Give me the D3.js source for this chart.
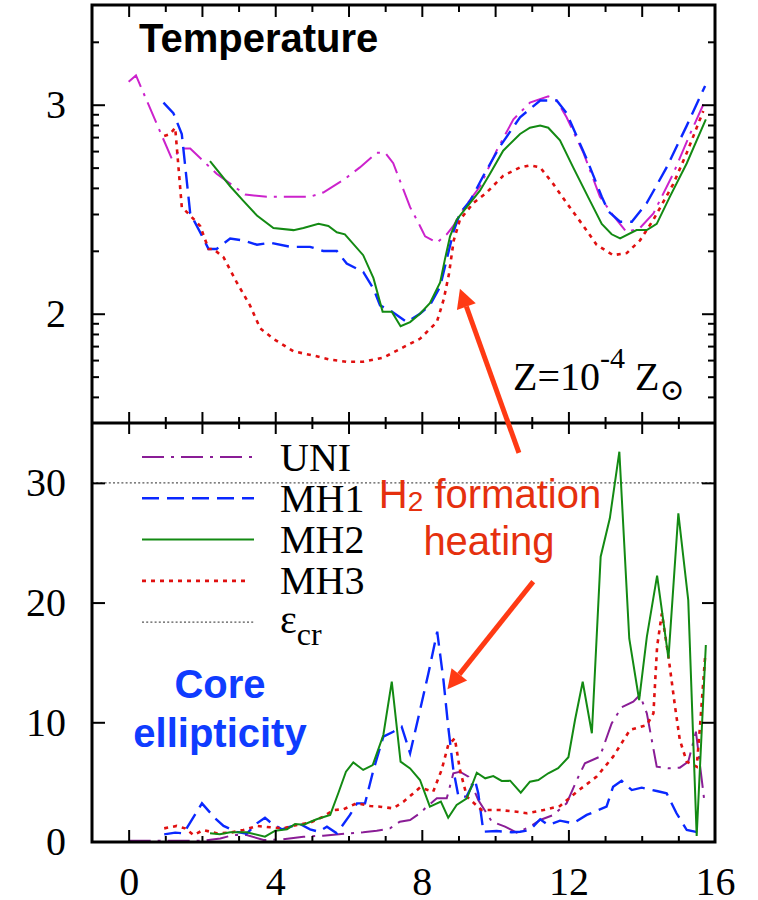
<!DOCTYPE html>
<html>
<head>
<meta charset="utf-8">
<script src="https://cdn.jsdelivr.net/npm/d3@7"></script>
<style>
  body { margin: 0; background: #fff; }
  svg { display: block; }
</style>
</head>
<body>
<svg id="chart" width="758" height="900"></svg>
<script>
// ---- data: [time, log10 T] for the temperature panel ----
const tempUNI = [[0,3.11],[0.2,3.14],[1.18,2.74],[1.45,2.79],[1.68,2.79],[2.4,2.67],[3.18,2.57],[3.77,2.56],[4.5,2.56],[4.95,2.56],[5.31,2.58],[5.86,2.64],[6.31,2.70],[6.77,2.77],[7.0,2.77],[7.22,2.72],[7.68,2.51],[7.95,2.42],[8.09,2.37],[8.41,2.34],[8.68,2.38],[8.86,2.42],[9.13,2.50],[9.59,2.61],[10.04,2.78],[10.5,2.93],[10.95,3.01],[11.45,3.04],[11.68,3.02],[11.95,2.94],[12.41,2.77],[12.86,2.56],[13.22,2.47],[13.59,2.39],[13.95,2.41],[14.32,2.48],[14.86,2.67],[15.32,2.86],[15.73,3.02]];
const tempMH1 = [[0.95,3.01],[1.22,2.96],[1.45,2.86],[1.68,2.48],[1.95,2.39],[2.18,2.31],[2.4,2.31],[2.77,2.36],[3.13,2.35],[3.5,2.33],[3.86,2.34],[4.41,2.32],[4.95,2.32],[5.31,2.30],[5.68,2.30],[5.95,2.24],[6.4,2.20],[6.68,2.12],[6.86,2.04],[7.18,2.01],[7.59,1.96],[7.95,2.00],[8.22,2.04],[8.5,2.13],[8.72,2.29],[8.86,2.39],[9.04,2.48],[9.32,2.54],[9.68,2.66],[10.13,2.80],[10.68,2.94],[11.23,3.02],[11.68,3.02],[11.95,2.96],[12.5,2.74],[12.91,2.56],[13.09,2.49],[13.41,2.44],[13.73,2.44],[14.14,2.53],[14.68,2.70],[15.23,2.90],[15.73,3.09]];
const tempMH2 = [[2.22,2.73],[2.77,2.61],[3.13,2.54],[3.5,2.47],[3.95,2.41],[4.5,2.40],[4.77,2.41],[5.18,2.43],[5.45,2.42],[5.68,2.39],[5.9,2.38],[6.4,2.28],[6.68,2.17],[6.93,2.01],[7.18,2.01],[7.42,1.94],[7.68,1.96],[7.95,2.00],[8.22,2.05],[8.5,2.15],[8.63,2.26],[8.77,2.37],[8.95,2.45],[9.32,2.53],[9.59,2.59],[9.86,2.67],[10.22,2.78],[10.68,2.86],[10.95,2.89],[11.23,2.90],[11.45,2.89],[11.77,2.83],[12.13,2.70],[12.59,2.54],[12.91,2.43],[13.18,2.38],[13.41,2.36],[13.86,2.40],[14.14,2.40],[14.41,2.43],[14.77,2.56],[15.23,2.72],[15.75,2.93]];
const tempMH3 = [[0.97,2.85],[1.13,2.86],[1.27,2.89],[1.36,2.70],[1.45,2.51],[1.68,2.47],[1.95,2.42],[2.18,2.31],[2.31,2.31],[2.59,2.27],[2.95,2.15],[3.31,2.04],[3.59,1.93],[3.95,1.88],[4.5,1.82],[5.04,1.80],[5.5,1.78],[5.95,1.77],[6.4,1.77],[6.95,1.79],[7.5,1.84],[7.95,1.88],[8.41,1.96],[8.6,2.07],[8.74,2.19],[8.87,2.35],[9.04,2.45],[9.41,2.53],[9.77,2.58],[10.22,2.66],[10.68,2.70],[10.95,2.71],[11.23,2.70],[11.59,2.62],[11.95,2.53],[12.41,2.42],[12.77,2.33],[13.22,2.28],[13.59,2.29],[13.95,2.35],[14.32,2.45],[14.86,2.62],[15.23,2.77],[15.68,2.97]];

// ---- data: [time, core ellipticity] ----
const ellUNI = [[0,0.1],[0.68,0.1],[1.68,0.1],[2.04,0.1],[2.5,0.3],[2.86,0.58],[3.22,0.58],[3.68,0.17],[4.22,0.22],[4.77,0.44],[5.31,0.53],[6.04,0.73],[6.4,0.81],[6.77,0.94],[7.13,1.14],[7.4,1.7],[7.68,1.84],[7.95,2.4],[8.09,2.81],[8.41,3.65],[8.68,3.65],[8.86,5.74],[9.04,5.87],[9.27,5.46],[9.54,3.51],[9.91,1.7],[10.27,1.28],[10.59,0.78],[10.95,1.28],[11.23,1.84],[11.59,2.26],[11.95,3.23],[12.23,5.18],[12.45,6.57],[12.86,7.13],[13.18,9.91],[13.45,11.25],[13.77,11.72],[13.95,12.28],[14.14,10.75],[14.41,6.29],[14.73,6.16],[15.04,6.21],[15.27,6.71],[15.48,9.21],[15.7,3.65]];
const ellMH1 = [[0.97,0.64],[1.27,0.78],[1.5,0.73],[2.0,3.23],[2.36,1.98],[2.59,1.34],[2.95,0.84],[3.22,0.69],[3.5,1.56],[3.72,2.03],[3.9,1.56],[4.18,1.06],[4.41,1.28],[4.68,1.5],[4.95,1.06],[5.18,0.86],[5.41,1.28],[5.68,0.73],[6.04,2.26],[6.23,3.23],[6.45,3.23],[6.68,6.02],[6.95,8.8],[7.22,9.21],[7.45,9.63],[7.68,7.41],[7.95,11.0],[8.18,14.09],[8.42,17.57],[8.59,13.53],[8.72,9.63],[8.86,6.02],[9.0,3.79],[9.22,3.79],[9.45,5.18],[9.54,4.07],[9.68,0.86],[10.04,0.92],[10.45,0.81],[10.68,0.86],[10.95,1.0],[11.23,1.9],[11.45,1.42],[11.77,1.78],[12.13,1.56],[12.5,2.26],[13.04,2.95],[13.22,4.62],[13.45,5.12],[13.73,4.34],[14.0,4.54],[14.41,4.26],[14.68,4.07],[14.95,2.4],[15.23,1.0],[15.68,0.73]];
const ellMH2 = [[2.22,0.73],[2.49,0.64],[2.77,0.81],[3.22,0.81],[3.72,0.44],[4.0,0.94],[4.32,1.06],[4.54,1.5],[4.77,1.45],[5.13,1.9],[5.5,2.26],[5.72,4.07],[5.93,5.87],[6.13,6.65],[6.4,6.02],[6.66,6.43],[6.95,8.94],[7.18,13.39],[7.42,6.71],[7.68,6.15],[7.95,5.18],[8.22,2.95],[8.52,3.37],[8.72,2.03],[8.95,3.09],[9.23,3.65],[9.5,5.79],[9.73,5.32],[9.95,5.51],[10.18,5.1],[10.41,5.12],[10.7,4.12],[10.95,5.04],[11.18,5.18],[11.45,5.74],[11.72,6.16],[12.0,7.08],[12.18,10.19],[12.39,13.39],[12.64,9.08],[12.88,23.83],[13.13,27.04],[13.39,32.6],[13.66,17.0],[13.93,11.86],[14.14,17.14],[14.42,22.25],[14.73,15.34],[15.0,27.46],[15.27,20.2],[15.5,0.5],[15.75,16.46]];
const ellMH3 = [[0.97,1.14],[1.31,1.34],[1.54,1.14],[1.77,0.58],[2.04,1.0],[2.4,0.73],[2.77,0.78],[3.13,1.0],[3.5,1.34],[3.86,1.23],[4.22,1.14],[4.59,1.42],[4.95,1.61],[5.31,2.12],[5.59,2.67],[5.86,2.73],[6.22,3.23],[6.59,3.01],[6.86,2.95],[7.22,2.81],[7.5,3.37],[7.77,4.07],[7.95,4.55],[8.31,4.2],[8.54,6.02],[8.72,8.1],[8.9,8.66],[9.04,6.02],[9.23,3.79],[9.63,2.67],[10.13,2.67],[10.59,2.53],[10.86,2.4],[11.32,2.67],[11.77,3.01],[12.23,4.2],[12.77,5.46],[13.22,7.13],[13.68,9.36],[14.14,9.77],[14.32,10.75],[14.42,16.32],[14.55,19.1],[14.73,15.48],[14.91,11.3],[15.04,8.52],[15.23,6.71],[15.5,6.29],[15.59,9.63],[15.73,15.48]];

const epsCritical = 30;

// axis ticks / labels
const xTickLabels = [0, 4, 8, 12, 16];
const logTempLabels = [2, 3];
const ellTickLabels = [0, 10, 20, 30];
const legendNames = ["UNI", "MH1", "MH2", "MH3"];

// ---- layout ----
const svg = d3.select("#chart");
const L = 92, R = 715, TOP = 5, MID = 423, BOT = 842;
const serif = "'Liberation Serif', 'Times New Roman', serif";
const sans = "'Liberation Sans', Arial, sans-serif";

const x = d3.scaleLinear().domain([-1, 16]).range([L, R]);
const yT = d3.scaleLinear().domain([Math.log10(30), Math.log10(3000)]).range([MID, TOP]);
const yE = d3.scaleLinear().domain([0, 35]).range([BOT, MID]);

const styles = {
  UNI:  { top: "#cc22cc", bottom: "#8a1d96", dash: "22,7,3,7", width: 2 },
  MH1:  { top: "#0a28ff", bottom: "#0a28ff", dash: "17,8", width: 2.4 },
  MH2:  { top: "#138a13", bottom: "#138a13", dash: null, width: 2 },
  MH3:  { top: "#e01010", bottom: "#e01010", dash: "4,5", width: 2.6 }
};

// ---- curves ----
const lineT = d3.line().x(d => x(d[0])).y(d => yT(d[1]));
const lineE = d3.line().x(d => x(d[0])).y(d => yE(d[1]));

const tempSeries = { UNI: tempUNI, MH1: tempMH1, MH2: tempMH2, MH3: tempMH3 };
const ellSeries = { UNI: ellUNI, MH1: ellMH1, MH2: ellMH2, MH3: ellMH3 };

// critical ellipticity line
svg.append("line")
  .attr("x1", x(-1)).attr("x2", x(16))
  .attr("y1", yE(epsCritical)).attr("y2", yE(epsCritical))
  .attr("stroke", "#555").attr("stroke-width", 1.2).attr("stroke-dasharray", "2,2.2");

const drawOrder = ["UNI", "MH1", "MH3", "MH2"];
drawOrder.forEach(k => {
  const s = styles[k];
  svg.append("path").datum(tempSeries[k])
    .attr("d", lineT).attr("fill", "none")
    .attr("stroke", s.top).attr("stroke-width", s.width)
    .attr("stroke-dasharray", s.dash);
});
drawOrder.forEach(k => {
  const s = styles[k];
  svg.append("path").datum(ellSeries[k])
    .attr("d", lineE).attr("fill", "none")
    .attr("stroke", s.bottom).attr("stroke-width", s.width)
    .attr("stroke-dasharray", s.dash);
});

// ---- frame ----
svg.append("rect").attr("x", L).attr("y", TOP).attr("width", R - L).attr("height", BOT - TOP)
  .attr("fill", "none").attr("stroke", "#000").attr("stroke-width", 3);
svg.append("line").attr("x1", L).attr("x2", R).attr("y1", MID).attr("y2", MID)
  .attr("stroke", "#000").attr("stroke-width", 3);

// ---- ticks ----
function styleTicks(g) {
  g.select(".domain").remove();
  g.selectAll("line").attr("stroke", "#000").attr("stroke-width", 2);
}
const intTicks = d3.range(0, 16);
const evenTicks = intTicks.filter(d => d % 2 === 0);
const oddTicks = intTicks.filter(d => d % 2 === 1);
const quadTicks = intTicks.filter(d => d % 4 === 0);
const otherTicks = intTicks.filter(d => d % 4 !== 0);

// top border
svg.append("g").attr("transform", `translate(0,${TOP})`)
  .call(d3.axisBottom(x).tickValues(evenTicks).tickSize(12).tickFormat("")).call(styleTicks);
svg.append("g").attr("transform", `translate(0,${TOP})`)
  .call(d3.axisBottom(x).tickValues(oddTicks).tickSize(7).tickFormat("")).call(styleTicks);
// panel divider (both directions)
[d3.axisBottom, d3.axisTop].forEach(ax => {
  svg.append("g").attr("transform", `translate(0,${MID})`)
    .call(ax(x).tickValues(evenTicks).tickSize(11).tickFormat("")).call(styleTicks);
  svg.append("g").attr("transform", `translate(0,${MID})`)
    .call(ax(x).tickValues(oddTicks).tickSize(6).tickFormat("")).call(styleTicks);
});
// bottom axis
svg.append("g").attr("transform", `translate(0,${BOT})`)
  .call(d3.axisTop(x).tickValues(quadTicks).tickSize(12).tickFormat("")).call(styleTicks);
svg.append("g").attr("transform", `translate(0,${BOT})`)
  .call(d3.axisTop(x).tickValues(otherTicks).tickSize(6).tickFormat("")).call(styleTicks);
svg.append("g").attr("transform", `translate(0,${BOT})`)
  .call(d3.axisBottom(x).tickValues(xTickLabels).tickSize(0).tickPadding(25).tickFormat(d3.format("d")))
  .call(g => g.select(".domain").remove())
  .call(g => g.selectAll("text").attr("font-family", serif).attr("font-size", 40).attr("fill", "#000"));

// temperature (log) ticks
const logMajor = [2, 3];
const logMinor = [];
[1, 2, 3].forEach(p => d3.range(1, 10).forEach(m => {
  const v = p + Math.log10(m);
  if (m > 1 && v > yT.domain()[0] + 1e-6 && v < yT.domain()[1] - 1e-6) logMinor.push(v);
}));
[[d3.axisRight, L], [d3.axisLeft, R]].forEach(([ax, pos]) => {
  svg.append("g").attr("transform", `translate(${pos},0)`)
    .call(ax(yT).tickValues(logMajor).tickSize(13).tickFormat("")).call(styleTicks);
  svg.append("g").attr("transform", `translate(${pos},0)`)
    .call(ax(yT).tickValues(logMinor).tickSize(7).tickFormat("")).call(styleTicks);
  svg.append("g").attr("transform", `translate(${pos},0)`)
    .call(ax(yE).tickValues([10, 20, 30]).tickSize(13).tickFormat("")).call(styleTicks);
});

// y labels
svg.append("g").attr("transform", `translate(${L},0)`)
  .call(d3.axisLeft(yT).tickValues(logTempLabels).tickSize(0).tickPadding(26).tickFormat(d3.format("d")))
  .call(g => g.select(".domain").remove())
  .call(g => g.selectAll("text").attr("font-family", serif).attr("font-size", 40).attr("fill", "#000"));
svg.append("g").attr("transform", `translate(${L},0)`)
  .call(d3.axisLeft(yE).tickValues(ellTickLabels).tickSize(0).tickPadding(26).tickFormat(d3.format("d")))
  .call(g => g.select(".domain").remove())
  .call(g => g.selectAll("text").attr("font-family", serif).attr("font-size", 40).attr("fill", "#000"));

// ---- legend ----
const legend = svg.append("g");
const legY0 = 457, legStep = 41.3;
legendNames.forEach((k, i) => {
  const s = styles[k];
  const y = legY0 + i * legStep;
  legend.append("line").attr("x1", 142).attr("x2", k === "MH3" ? 250 : 254).attr("y1", y).attr("y2", y)
    .attr("stroke", s.bottom).attr("stroke-width", s.width).attr("stroke-dasharray", s.dash);
  legend.append("text").attr("x", 280).attr("y", y + 13.5)
    .attr("font-family", serif).attr("font-size", 40).text(k);
});
{
  const y = legY0 + 4 * legStep;
  legend.append("line").attr("x1", 142).attr("x2", 254).attr("y1", y).attr("y2", y)
    .attr("stroke", "#555").attr("stroke-width", 1.2).attr("stroke-dasharray", "2,2.2");
  const t = legend.append("text").attr("x", 280).attr("y", y + 11)
    .attr("font-family", serif).attr("font-size", 40);
  t.append("tspan").text("ε");
  t.append("tspan").attr("dy", 12).attr("font-size", 32).text("cr");
}

// ---- annotations ----
svg.append("text").attr("x", 139).attr("y", 52)
  .attr("font-family", sans).attr("font-weight", "bold").attr("font-size", 40).text("Temperature");

const z = svg.append("text").attr("x", 513).attr("y", 390)
  .attr("font-family", serif).attr("font-size", 40);
z.append("tspan").text("Z=10");
z.append("tspan").attr("dy", -22).attr("font-size", 30).text("-4");
z.append("tspan").attr("dy", 22).text(" Z");
z.append("tspan").attr("dy", 10).attr("font-size", 30).attr("font-family", "'DejaVu Serif', serif").text("⊙");

const core = svg.append("text").attr("text-anchor", "middle")
  .attr("font-family", sans).attr("font-weight", "bold").attr("font-size", 40).attr("fill", "#0f3cff");
core.append("tspan").attr("x", 220).attr("y", 698).text("Core");
core.append("tspan").attr("x", 220).attr("y", 747).text("ellipticity");

const h2 = svg.append("text").attr("text-anchor", "middle")
  .attr("font-family", sans).attr("font-size", 40).attr("fill", "#e5300e");
const h2a = h2.append("tspan").attr("x", 490).attr("y", 508);
h2a.append("tspan").text("H");
h2a.append("tspan").attr("font-size", 28).attr("dy", 3).text("2");
h2a.append("tspan").attr("dy", -3).text(" formation");
h2.append("tspan").attr("x", 489).attr("y", 555).text("heating");

// arrows: tail in one panel, head in the other
const arrowColor = "#ff3a14";
function arrow(x1, y1, x2, y2) {
  const ang = Math.atan2(y2 - y1, x2 - x1);
  const hl = 19, hw = 10;
  const bx = x2 - hl * Math.cos(ang), by = y2 - hl * Math.sin(ang);
  svg.append("line").attr("x1", x1).attr("y1", y1).attr("x2", bx).attr("y2", by)
    .attr("stroke", arrowColor).attr("stroke-width", 5);
  const px = -Math.sin(ang) * hw, py = Math.cos(ang) * hw;
  svg.append("path")
    .attr("d", `M${x2},${y2}L${bx + px},${by + py}L${bx - px},${by - py}Z`)
    .attr("fill", arrowColor);
}
arrow(x(10.65), yE(32.5), x(9.04), yT(2.12));
arrow(x(11.04), yE(21.75), x(8.70), yE(12.76));
</script>
</body>
</html>
